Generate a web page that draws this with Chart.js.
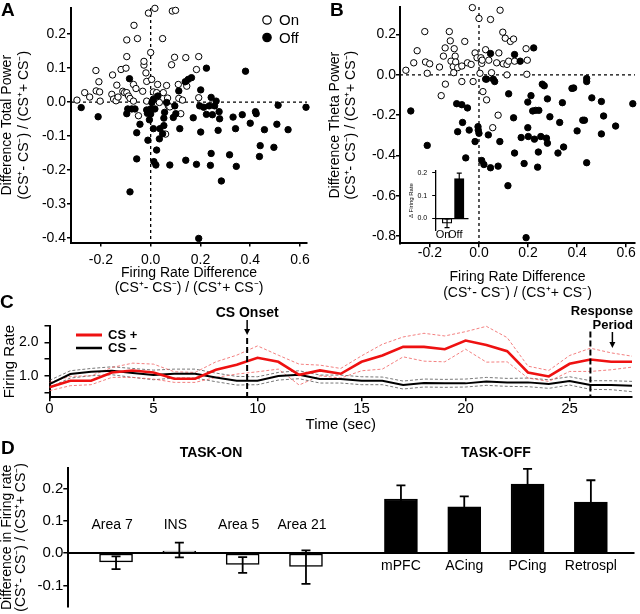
<!DOCTYPE html>
<html><head><meta charset="utf-8">
<script src="https://cdn.jsdelivr.net/npm/chart.js@4.4.1/dist/chart.umd.min.js"></script>
<style>
body{margin:0;background:#fff}
#wrap{position:relative;width:640px;height:614px;overflow:hidden;background:#fff}
canvas{position:absolute}
.lbl{position:absolute;font:bold 19px 'Liberation Sans',Arial,sans-serif;color:#000;line-height:20px}
</style></head>
<body>
<div id="wrap">
<canvas id="cA" width="320" height="300" style="left:0;top:0"></canvas>
<canvas id="cB" width="320" height="310" style="left:320px;top:0"></canvas>
<canvas id="cI" width="76" height="82" style="left:402px;top:162px"></canvas>
<canvas id="cC" width="640" height="140" style="left:0;top:300px"></canvas>
<canvas id="cD" width="640" height="174" style="left:0;top:440px"></canvas>
<div class="lbl" style="left:1px;top:0px">A</div>
<div class="lbl" style="left:330px;top:0px">B</div>
<div class="lbl" style="left:0px;top:292px">C</div>
<div class="lbl" style="left:1px;top:438px">D</div>
</div>
<script>
// ---------------- DATA ----------------
// Panel A: [firing rate difference, total power difference]
const A_ON = [[-0.296,0.006],[-0.265,0.028],[-0.245,0.015],[-0.22,0.093],[-0.219,0.033],[-0.208,0.06],[-0.205,0.03],[-0.203,0.003],
[-0.153,0.08],[-0.156,0.023],[-0.149,0.009],[-0.139,0.004],[-0.136,0.05],[-0.131,0.015],[-0.119,0.096],[-0.112,0.032],[-0.105,0.028],
[-0.099,0.1],[-0.096,0.183],[-0.096,0.134],[-0.096,0.028],[-0.089,0.018],[-0.083,0.011],[-0.069,0.003],[-0.069,0.052],[-0.067,0.226],
[-0.053,0.187],[-0.049,-0.04],[-0.059,0.04],[-0.032,0.032],[-0.027,0.109],[-0.027,0.12],[-0.019,0.086],[-0.016,0.003],[-0.016,0.061],
[-0.009,0.262],[0.0,0.146],[0.004,0.067],[0.011,0.03],[0.017,0.276],[0.024,0.028],[0.028,0.052],[0.035,-0.001],[0.048,0.187],[0.051,0.028],
[0.06,-0.094],[0.064,0.049],[0.068,0.012],[0.071,-0.011],[0.077,-0.014],[0.084,0.11],[0.087,0.268],[0.1,0.27],[0.096,0.132],[0.111,0.052],
[0.113,0.011],[0.121,-0.034],[0.128,0.006],[0.141,0.131],[0.145,0.047],[0.184,0.096],[0.193,0.134],[0.193,0.013]];
const A_OFF = [[-0.279,-0.016],[-0.211,-0.043],[-0.096,-0.034],[-0.085,0.069],[-0.092,-0.02],[-0.076,-0.02],[-0.063,-0.02],[-0.056,-0.09],
[-0.043,-0.065],[-0.056,-0.167],[-0.083,-0.264],[-0.016,-0.023],[-0.013,-0.033],[-0.011,-0.112],[-0.005,-0.052],[0,-0.02],[0,-0.035],
[0.005,-0.001],[0.011,0.009],[0.011,-0.078],[0.013,-0.175],[0.021,-0.185],[0.024,-0.141],[0.017,-0.02],[0.029,0.018],[0.035,-0.108],
[0.037,-0.078],[0.048,-0.093],[0.053,-0.069],[0.053,-0.047],[0.056,-0.03],[0.064,-0.001],[0.077,-0.185],[0.091,-0.045],[0.097,-0.011],
[0.101,-0.034],[0.113,0.033],[0.117,-0.078],[0.139,0.06],[0.141,-0.171],[0.151,0.067],[0.164,0.072],[0.171,-0.046],[0.184,-0.183],
[0.193,-0.401],[0.197,-0.011],[0.201,0.036],[0.201,-0.088],[0.213,-0.015],[0.224,0.1],[0.224,-0.036],[0.235,-0.011],[0.24,-0.186],
[0.243,-0.151],[0.243,0.014],[0.248,-0.037],[0.257,-0.011],[0.263,0.003],[0.271,-0.083],[0.275,-0.028],[0.277,-0.049],[0.284,-0.232],
[0.317,-0.155],[0.331,-0.044],[0.341,-0.078],[0.344,-0.189],[0.368,-0.037],[0.381,0.091],[0.4,-0.062],[0.421,-0.028],[0.424,-0.034],
[0.44,-0.128],[0.437,-0.16],[0.457,-0.081],[0.495,-0.133],[0.507,-0.065],[0.512,-0.009],[0.552,-0.081],[0.624,-0.015]];
// Panel B: [firing rate difference, theta power difference]
const B_ON = [[-0.298,0.023],[-0.266,0.06],[-0.252,0.12],[-0.221,0.215],[-0.218,0.064],[-0.211,0.008],[-0.201,0.055],[-0.161,0.039],
[-0.154,-0.103],[-0.145,0.093],[-0.138,0.134],[-0.137,-0.046],[-0.121,0.215],[-0.117,0.169],[-0.114,0.068],[-0.105,0.041],[-0.103,0.011],
[-0.101,0.13],[-0.097,0.093],[-0.095,0.064],[-0.087,0.036],[-0.07,-0.033],[-0.07,0.044],[-0.058,0.166],[-0.047,0.06],[-0.032,0.052],
[-0.027,0.334],[-0.024,-0.033],[-0.016,0.109],[-0.008,0.085],[0.0,0.28],[0.004,0.008],[0.008,0.085],[0.011,0.057],[0.013,0.073],
[0.016,-0.083],[0.027,0.125],[0.031,-0.124],[0.04,0.073],[0.047,0.275],[0.051,0.011],[0.056,-0.262],[0.072,0.06],[0.081,0.109],
[0.086,0.321],[0.097,0.212],[0.099,0.055],[0.107,0.182],[0.114,0.0],[0.114,0.052],[0.121,0.068],[0.128,0.166],[0.141,0.178],
[0.145,0.068],[0.078,-0.2],[0.192,0.13],[0.197,0.073],[0.195,0.003]];
const B_OFF = [[-0.278,-0.179],[-0.211,-0.35],[-0.091,-0.143],[-0.087,-0.282],[-0.07,-0.148],[-0.067,-0.236],[-0.054,-0.412],
[-0.047,-0.164],[-0.04,-0.274],[-0.016,-0.331],[-0.004,-0.257],[-0.003,-0.274],[0,-0.29],[0.011,-0.425],[0.02,-0.445],[0.038,-0.298],
[0.047,-0.461],[0.027,-0.021],[0.047,0.106],[0.058,-0.021],[0.064,-0.033],[0.078,-0.453],[0.085,-0.331],[0.118,-0.55],[0.121,-0.094],
[0.141,-0.213],[0.145,-0.388],[0.145,0.101],[0.168,0.068],[0.172,-0.311],[0.184,-0.44],[0.199,-0.135],[0.192,-0.808],[0.199,-0.262],
[0.201,-0.306],[0.212,-0.103],[0.219,-0.179],[0.223,0.134],[0.226,-0.319],[0.231,-0.176],[0.239,-0.458],[0.242,-0.383],[0.244,-0.176],
[0.252,-0.306],[0.258,-0.046],[0.266,-0.054],[0.275,-0.314],[0.279,-0.119],[0.279,-0.339],[0.289,-0.208],[0.322,-0.388],[0.329,-0.236],
[0.34,-0.138],[0.345,-0.358],[0.379,-0.067],[0.386,-0.065],[0.4,-0.278],[0.423,-0.225],[0.43,-0.225],[0.439,-0.018],[0.439,-0.033],
[0.439,-0.436],[0.46,-0.114],[0.499,-0.132],[0.508,-0.204],[0.499,-0.293],[0.557,-0.254],[0.627,-0.143],[0.031,-0.021]];
const AB_XTICKS = [-0.2, 0, 0.2, 0.4, 0.6];
const A_YTICKS = [-0.4, -0.3, -0.2, -0.1, 0, 0.1, 0.2];
const B_YTICKS = [-0.8, -0.6, -0.4, -0.2, 0, 0.2];
// Inset (B)
const INSET_LABELS = ['On', 'Off'];
const INSET_POS = [0, 1];
const INSET_MEAN = [-0.022, 0.175];
const INSET_LO = [-0.041, 0.151];
const INSET_HI = [-0.003, 0.199];
const INSET_YTICKS = [0, 0.1, 0.2];
// Panel C
const C_TIME = [0,1,2,3,4,5,6,7,8,9,10,11,12,13,14,15,16,17,18,19,20,21,22,23,24,25,26,27,28];
const CSP_MEAN = [0.65,0.85,0.85,1.1,1.16,1.1,0.91,0.91,1.18,1.33,1.54,1.42,1.03,1.16,1.06,1.42,1.61,1.87,1.87,1.8,2.06,1.93,1.74,1.1,0.98,1.36,1.49,1.42,1.42];
const CSP_UP   = [0.8,0.98,1.0,1.25,1.38,1.35,1.12,1.1,1.42,1.62,1.9,1.62,1.35,1.32,1.22,1.6,1.95,2.17,2.28,2.2,2.33,2.49,2.15,1.29,1.16,1.61,1.83,1.69,1.59];
const CSP_LO   = [0.55,0.7,0.73,0.95,0.95,0.9,0.8,0.8,0.95,1.05,1.12,1.2,0.72,1.0,0.93,1.15,1.2,1.57,1.44,1.42,1.8,1.41,1.42,0.93,0.83,1.13,1.13,1.18,1.26];
const CSM_MEAN = [0.75,1.05,1.12,1.15,1.08,1.02,1.06,1.06,0.95,0.85,0.85,0.99,1.03,0.9,0.9,0.85,0.85,0.72,0.78,0.77,0.77,0.83,0.8,0.8,0.75,0.84,0.72,0.72,0.7];
const CSM_UP   = [0.86,1.15,1.22,1.27,1.22,1.17,1.2,1.2,1.08,0.98,0.97,1.1,1.15,1.02,1.02,0.97,0.96,0.84,0.9,0.89,0.9,0.95,0.92,0.93,0.88,0.97,0.85,0.85,0.83];
const CSM_LO   = [0.65,0.93,1.0,1.03,0.95,0.88,0.93,0.93,0.82,0.72,0.73,0.87,0.91,0.78,0.78,0.73,0.73,0.6,0.66,0.65,0.66,0.71,0.68,0.67,0.62,0.72,0.59,0.58,0.52];
const C_XTICKS = [0, 5, 10, 15, 20, 25];
const C_YTICKS = [0.5, 1.0, 1.5, 2.0, 2.5];
const C_YLABELED = [1.0, 2.0];
const CS_ONSET = 9.5;
const RESPONSE_START = 26;
// Panel D
const D_LABELS = ['Area 7', 'INS', 'Area 5', 'Area 21', 'mPFC', 'ACing', 'PCing', 'Retrospl'];
const D_GROUP  = ['on', 'on', 'on', 'on', 'off', 'off', 'off', 'off'];
const D_POS    = [0, 1, 2, 3, 4.5, 5.5, 6.5, 7.5];
const D_MEAN   = [-0.027, 0.007, -0.035, -0.041, 0.168, 0.144, 0.214, 0.158];
const D_LO     = [-0.049, -0.013, -0.061, -0.095, 0.126, 0.112, 0.167, 0.09];
const D_HI     = [-0.01, 0.033, -0.012, 0.009, 0.21, 0.176, 0.261, 0.226];
const D_YTICKS = [-0.1, 0, 0.1, 0.2];

// ---------------- HELPERS ----------------
const FONT = "'Liberation Sans', Arial, Helvetica, sans-serif";
const YTITLE2 = '(CS\u207A- CS\u207B) / (CS\u207A+ CS\u207B)';

function linAxis(o) {
  const ax = {
    type: 'linear', min: o.min, max: o.max, offset: false,
    afterFit(s) { if (o.size != null) { if (s.isHorizontal()) s.height = o.size; else s.width = o.size; } },
    afterBuildTicks(s) { s.ticks = o.ticks.map(v => ({ value: v })); },
    ticks: { display: true, color: '#000', autoSkip: false, maxRotation: 0, minRotation: 0, padding: o.tpad ?? 2,
      labelOffset: o.lo || 0,
      font: { family: FONT, size: o.fs || 14, lineHeight: 1 },
      callback: o.cb || (v => Number(v).toFixed(1)) },
    grid: { display: (o.tl || 0) > 0, drawOnChartArea: false, drawTicks: (o.tl || 0) > 0, tickLength: o.tl || 0, color: '#000', lineWidth: o.lw || 1.5 },
    border: { display: true, color: '#000', width: o.bw || 2 },
    title: { display: !!o.title, text: o.title, color: '#000',
      font: { family: FONT, size: o.tfs || 14, lineHeight: (o.tlh || 16) + 'px' }, padding: o.titlePad || 0 }
  };
  if (o.position) ax.position = o.position;
  return ax;
}
const pts = arr => arr.map(p => ({ x: p[0], y: p[1] }));
const series = (xs, ys) => xs.map((x, i) => ({ x, y: ys[i] }));

const refLines = {
  id: 'refLines',
  beforeDatasetsDraw(chart) {
    const { ctx, chartArea: a, scales: { x, y } } = chart;
    const px = x.getPixelForValue(0), py = y.getPixelForValue(0);
    ctx.save(); ctx.strokeStyle = '#000'; ctx.lineWidth = 1.3; ctx.setLineDash([3, 3]);
    ctx.beginPath(); ctx.moveTo(px, a.top); ctx.lineTo(px, a.bottom);
    ctx.moveTo(a.left, py); ctx.lineTo(a.right, py); ctx.stroke(); ctx.restore();
  }
};
const onOffLegend = {
  id: 'onOffLegend',
  afterDraw(chart) {
    const { ctx, chartArea: a } = chart;
    const cx = a.right - 40;
    [['On', '#fff', a.top + 12], ['Off', '#000', a.top + 29.5]].forEach(([t, fill, cy]) => {
      ctx.save(); ctx.beginPath(); ctx.arc(cx, cy, 4.2, 0, Math.PI * 2);
      ctx.fillStyle = fill; ctx.fill(); ctx.lineWidth = 1.2; ctx.strokeStyle = '#000'; ctx.stroke();
      ctx.fillStyle = '#000'; ctx.font = '15px ' + FONT; ctx.textBaseline = 'middle'; ctx.textAlign = 'left';
      ctx.fillText(t, cx + 12, cy + 1); ctx.restore();
    });
  }
};
const errorBars = {
  id: 'errorBars',
  afterDatasetsDraw(chart, args, o) {
    if (!o || !o.lo) return;
    const { ctx, scales: { y } } = chart;
    const meta = chart.getDatasetMeta(0);
    ctx.save(); ctx.strokeStyle = '#000'; ctx.lineWidth = o.width || 1.5;
    meta.data.forEach((bar, i) => {
      const cx = bar.x, yl = y.getPixelForValue(o.lo[i]), yh = y.getPixelForValue(o.hi[i]);
      ctx.beginPath(); ctx.moveTo(cx, yl); ctx.lineTo(cx, yh);
      ctx.moveTo(cx - o.cap, yl); ctx.lineTo(cx + o.cap, yl);
      ctx.moveTo(cx - o.cap, yh); ctx.lineTo(cx + o.cap, yh); ctx.stroke();
    });
    ctx.restore();
  }
};
function scatterDatasets(on, off) {
  return [
    { label: 'Off', data: pts(off), pointRadius: 3.2, pointBackgroundColor: '#000', pointBorderColor: '#000', pointBorderWidth: 1, showLine: false, clip: false },
    { label: 'On', data: pts(on), pointRadius: 3.2, pointBackgroundColor: '#fff', pointBorderColor: '#000', pointBorderWidth: 1, showLine: false, clip: false }
  ];
}
const common = { responsive: false, animation: false, events: [], maintainAspectRatio: false };
const noPlug = { legend: { display: false }, tooltip: { enabled: false } };

// ---------------- PANEL A ----------------
new Chart(document.getElementById('cA'), {
  type: 'scatter',
  data: { datasets: scatterDatasets(A_ON, A_OFF) },
  options: { ...common, layout: { padding: { left: 0, top: 4, right: 13, bottom: 0 } }, plugins: noPlug,
    scales: {
      x: linAxis({ min: -0.32, max: 0.628, ticks: AB_XTICKS, size: 57.5, tl: 4, tpad: 6.5,
        title: ['Firing Rate Difference', YTITLE2], tlh: 15, titlePad: { bottom: 4 } }),
      y: linAxis({ min: -0.413, max: 0.277, ticks: A_YTICKS, size: 71, tl: 4, tpad: 1,
        title: ['Difference Total Power', YTITLE2], tlh: 16.5, titlePad: { top: -1 } })
    } },
  plugins: [refLines, onOffLegend]
});

// ---------------- PANEL B ----------------
new Chart(document.getElementById('cB'), {
  type: 'scatter',
  data: { datasets: scatterDatasets(B_ON, B_OFF) },
  options: { ...common, layout: { padding: { left: 0, top: 3.3, right: 2, bottom: 0 } }, plugins: noPlug,
    scales: {
      x: linAxis({ min: -0.322, max: 0.636, ticks: AB_XTICKS, size: 66.7, tl: 4, tpad: -1,
        title: ['Firing Rate Difference', YTITLE2], tlh: 16.6, titlePad: { bottom: 8.4 } }),
      y: linAxis({ min: -0.836, max: 0.337, ticks: B_YTICKS, size: 80, tl: 4, tpad: 0,
        title: ['Difference Theta Power', YTITLE2], tlh: 16, titlePad: { top: 7 } })
    } },
  plugins: [refLines]
});

// ---------------- INSET ----------------
new Chart(document.getElementById('cI'), {
  type: 'bar',
  data: { datasets: [{ data: series(INSET_POS, INSET_MEAN), backgroundColor: ['#fff', '#000'], borderColor: '#000',
    borderWidth: 1.2, borderSkipped: false, barThickness: 9.5 }] },
  options: { ...common, layout: { padding: { left: 0, top: 4.7, right: 2, bottom: 13.3 } },
    plugins: { ...noPlug, errorBars: { lo: INSET_LO, hi: INSET_HI, cap: 2.5, width: 1.2 } },
    scales: {
      x: linAxis({ min: -0.93, max: 1.68, ticks: INSET_POS, position: { y: 0 }, tl: 0, tpad: 11, fs: 11, bw: 1.3, lo: -4,
        cb: (v, i) => INSET_LABELS[i] }),
      y: linAxis({ min: -0.055, max: 0.211, ticks: INSET_YTICKS, size: 33.7, tl: 3.5, tpad: 5, fs: 7, bw: 1.3, lw: 1,
        title: ['\u0394 Firing Rate'], tfs: 6, tlh: 7, titlePad: { top: 6 } })
    } },
  plugins: [errorBars]
});

// ---------------- PANEL C ----------------
const cAnnot = {
  id: 'cAnnot',
  afterDraw(chart) {
    const { ctx, chartArea: a, scales: { x } } = chart;
    const xo = x.getPixelForValue(CS_ONSET), xr = x.getPixelForValue(RESPONSE_START);
    ctx.save();
    ctx.strokeStyle = '#000'; ctx.lineWidth = 2; ctx.setLineDash([6, 3]);
    ctx.beginPath(); ctx.moveTo(xo, 38); ctx.lineTo(xo, a.bottom); ctx.moveTo(xr, 31.5); ctx.lineTo(xr, a.bottom); ctx.stroke();
    ctx.setLineDash([]); ctx.lineWidth = 1.5; ctx.fillStyle = '#000';
    const arrow = (ax, y1, y2) => {
      ctx.beginPath(); ctx.moveTo(ax, y1); ctx.lineTo(ax, y2 - 5); ctx.stroke();
      ctx.beginPath(); ctx.moveTo(ax - 3, y2 - 6); ctx.lineTo(ax + 3, y2 - 6); ctx.lineTo(ax, y2); ctx.closePath(); ctx.fill();
    };
    arrow(xo, 20, 35); arrow(xr + 22, 32, 48);
    ctx.textBaseline = 'middle';
    ctx.font = 'bold 14px ' + FONT; ctx.textAlign = 'center'; ctx.fillText('CS Onset', xo, 13);
    ctx.font = 'bold 13px ' + FONT; ctx.textAlign = 'right';
    ctx.fillText('Response', 633, 11); ctx.fillText('Period', 633, 25);
    // legend
    ctx.lineWidth = 3; ctx.strokeStyle = '#ee1111';
    ctx.beginPath(); ctx.moveTo(76, 35); ctx.lineTo(102, 35); ctx.stroke();
    ctx.strokeStyle = '#000'; ctx.lineWidth = 2.5;
    ctx.beginPath(); ctx.moveTo(76, 48); ctx.lineTo(102, 48); ctx.stroke();
    ctx.textAlign = 'left'; ctx.font = 'bold 13px ' + FONT;
    ctx.fillText('CS +', 108, 35); ctx.fillText('CS \u2013', 108, 48);
    ctx.restore();
  }
};
const dashed = (ys, color) => ({ data: series(C_TIME, ys), borderColor: color, borderWidth: 0.8, borderDash: [3, 2], pointRadius: 0, tension: 0, fill: false, clip: false });
new Chart(document.getElementById('cC'), {
  type: 'line',
  data: { datasets: [
    { data: series(C_TIME, CSP_MEAN), borderColor: '#ee1111', borderWidth: 2.6, pointRadius: 0, tension: 0, fill: false },
    { data: series(C_TIME, CSM_MEAN), borderColor: '#000', borderWidth: 2, pointRadius: 0, tension: 0, fill: false },
    dashed(CSP_UP, '#f06060'), dashed(CSP_LO, '#f06060'), dashed(CSM_UP, '#555'), dashed(CSM_LO, '#555')
  ] },
  options: { ...common, layout: { padding: { left: 0, top: 26, right: 8, bottom: 0 } }, plugins: noPlug,
    scales: {
      x: linAxis({ min: 0, max: 28, ticks: C_XTICKS, size: 42.7, tl: 4, tpad: 0, fs: 15, cb: v => String(v),
        title: ['Time (sec)'], tfs: 15, tlh: 16, titlePad: { bottom: 7 } }),
      y: linAxis({ min: 0.35, max: 2.5, ticks: C_YTICKS, size: 49.5, tl: 5, tpad: 6, fs: 14,
        cb: v => C_YLABELED.includes(v) ? Number(v).toFixed(1) : '',
        title: ['Firing Rate'], tfs: 15, tlh: 16, titlePad: { top: 2 } })
    } },
  plugins: [cAnnot]
});

// ---------------- PANEL D ----------------
const dLabels = {
  id: 'dLabels',
  afterDraw(chart) {
    const { ctx, chartArea: a, scales: { x, y } } = chart;
    const y0 = y.getPixelForValue(0);
    ctx.save(); ctx.fillStyle = '#000'; ctx.textAlign = 'center'; ctx.textBaseline = 'middle';
    ctx.font = '14px ' + FONT;
    D_LABELS.forEach((l, i) => { if (D_GROUP[i] === 'on') ctx.fillText(l, x.getPixelForValue(D_POS[i]) - 4, y0 - 28); });
    const on = D_POS.filter((p, i) => D_GROUP[i] === 'on'), off = D_POS.filter((p, i) => D_GROUP[i] === 'off');
    ctx.font = 'bold 14px ' + FONT;
    ctx.fillText('TASK-ON', x.getPixelForValue((on[0] + on[on.length - 1]) / 2), 13);
    ctx.fillText('TASK-OFF', x.getPixelForValue((off[0] + off[off.length - 1]) / 2), 13);
    ctx.restore();
  }
};
new Chart(document.getElementById('cD'), {
  type: 'bar',
  data: { datasets: [{ data: series(D_POS, D_MEAN), backgroundColor: D_GROUP.map(g => g === 'on' ? '#fff' : '#000'),
    borderColor: '#000', borderWidth: 1.5, borderSkipped: false, barThickness: 33 }] },
  options: { ...common, layout: { padding: { left: 0, top: 28.3, right: 6.7, bottom: 7.3 } },
    plugins: { ...noPlug, errorBars: { lo: D_LO, hi: D_HI, cap: 4.5, width: 1.8 } },
    scales: {
      x: linAxis({ min: -0.754, max: 8.17, ticks: D_POS, position: { y: 0 }, tl: 0, tpad: 6, fs: 14, bw: 2,
        cb: (v, i) => D_GROUP[i] === 'off' ? D_LABELS[i] : '' }),
      y: linAxis({ min: -0.165, max: 0.263, ticks: D_YTICKS, size: 68.3, tl: 5, tpad: 0, fs: 15,
        title: ['Difference in Firing rate', YTITLE2], tfs: 14, tlh: 14, titlePad: { top: 0 } })
    } },
  plugins: [errorBars, dLabels]
});
</script>
</body></html>
